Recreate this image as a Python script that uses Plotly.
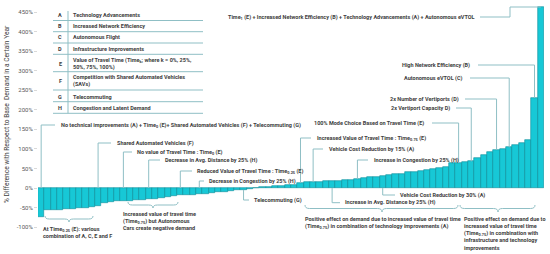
import plotly.graph_objects as go

# ---------------- data ----------------
values = [-75, -57, -56, -55, -54, -53, -52, -50, -48, -45,
          -37, -35, -34, -33, -32, -31, -30, -29, -27, -25,
          -22, -20, -19, -18, -17, -16, -14, -12, -11, -9,
          -8, -6, -5, -3, -1, 2, 3, 4, 6, 8,
          9, 14, 15, 15, 16, 17, 18, 19, 20, 21,
          23, 25, 27, 29, 31, 33, 35, 37, 40, 42,
          44, 46, 48, 51, 54, 64, 64, 66, 68, 76,
          84, 92, 98, 101, 104, 110, 115, 124, 231, 462]
bar_index = list(range(len(values)))
tick_values = [-100, -50, 0, 50, 100, 150, 200, 250, 300, 350, 400, 450]
tick_labels = [f"{v}%" for v in tick_values]

legend_letters = ["A", "B", "C", "D", "E", "F", "G", "H"]
legend_texts = [
    "Technology Advancements",
    "Increased Network Efficiency",
    "Autonomous Flight",
    "Infrastructure Improvements",
    "Value of Travel Time (Time<sub>k</sub>; where k = 0%, 25%,<br>50%, 75%, 100%)",
    "Competition with Shared Automated Vehicles<br>(SAVs)",
    "Telecommuting",
    "Congestion and Latent Demand",
]
y_title = "% Difference with Respect to Base  Demand in a Certain Year"

# ---------------- layout constants ----------------
W, H = 550, 254
ML, MR, MT, MB = 38, 6, 3, 19
Y_MIN, Y_MAX = -120, 473
N = len(values)
BW = (W - ML - MR) / N
PPU = (H - MT - MB) / (Y_MAX - Y_MIN)


def dx(px):
    return (px - ML) / BW - 0.5


def dy(py):
    return Y_MAX - (py - MT) / PPU


TXT = "#404040"
LINE = "#8fbfc5"
FONT = "Roboto"
FS = 5.5

fig = go.Figure()
fig.add_trace(go.Bar(
    x=bar_index, y=values,
    marker=dict(color="#17c8d6", line=dict(color="#0a8c98", width=0.6)),
    hoverinfo="skip",
))

annotations = []
shapes = []


def label(text, px, py, anchor="left", size=FS):
    annotations.append(dict(
        x=dx(px), y=dy(py), xref="x", yref="y", text=text, showarrow=False,
        xanchor=anchor, yanchor="middle", align="left",
        font=dict(family=FONT, size=size, color=TXT, weight="bold"),
    ))


def path(pts):
    d = "M " + " L ".join(f"{x},{y}" for x, y in pts)
    shapes.append(dict(type="path", path=d, xref="x", yref="y",
                       line=dict(color=LINE, width=1), layer="above"))


# --- labels above the zero line (vertical from bar, then right) ---
left_up = [
    ("No technical improvements (A) + Time<sub>0</sub> (E)+ Shared Automated Vehicles (F) + Telecommuting (G)", 0, 59, 125, 55),
    ("Shared Automated Vehicles (F)", 9, 115, 143, 111),
    ("No value of Travel Time : Time<sub>0</sub> (E)", 13, 135, 152, 132),
    ("Decrease in Avg. Distance by 25% (H)", 17, 163, 160, 160),
    ("Reduced Value of Travel Time : Time<sub>0.25</sub> (E)", 22, 195, 171, 192),
    ("Decrease in Congestion by 25% (H)", 25, 207, 181, 204),
    ("Increased Value of Travel Time : Time<sub>0.75</sub> (E)", 41, 315, 138, 311),
    ("Vehicle Cost Reduction by 15% (A)", 43, 327, 149, 323),
    ("Increase in Congestion by 25% (H)", 50, 372, 160, 368),
]
for text, b, tx, ty, hx in left_up:
    label(text, tx, ty)
    path([(b, max(values[b], 0)), (b, dy(ty)), (dx(hx), dy(ty))])

# --- labels below the zero line ---
below = [
    ("Telecommuting (G)", 32, 252, 200, 249),
    ("Increase in Avg. Distance by 25% (H)", 46, 343, 202.7, 340),
    ("Vehicle Cost Reduction by 30% (A)", 54, 398, 195, 395),
]
for text, b, tx, ty, hx in below:
    label(text, tx, ty)
    path([(b, min(values[b], 0)), (b, dy(ty)), (dx(hx), dy(ty))])

# --- labels on the right, line goes right then down to bar ---
right = [
    ("High Network Efficiency (B)", 78, 472, 65, 478),
    ("Autonomous eVTOL (C)", 74, 464, 78, 470),
    ("2x Number of Vertiports (D)", 72, 461, 99, 465),
    ("2x Vertiport Capacity D)", 68, 452, 108, 456),
    ("100% Mode Choice Based on Travel Time (E)", 66, 426, 123, 432),
]
for text, b, tx, ty, hx in right:
    label(text, tx, ty, anchor="right")
    path([(dx(hx), dy(ty)), (b, dy(ty)), (b, values[b])])

# top label to the tallest bar
label("Time<sub>1</sub> (E) + Increased Network Efficiency (B) + Technology Advancements (A) + Autonomous eVTOL",
      477, 17, anchor="right")
path([(dx(480), dy(17)), (dx(510), dy(17)), (dx(510), dy(7)), (N - 1, dy(7))])

# --- curly braces under groups ---


def brace(px1, px2, pxm, pytop, pytip):
    x1, x2, xm = dx(px1), dx(px2), dx(pxm)
    yt, yp = dy(pytop), dy(pytip)
    ym = (yt + yp) / 2
    d = 0.7
    p = (f"M {x1},{yt} Q {x1},{ym} {x1 + d},{ym} L {xm - d},{ym} "
         f"Q {xm},{ym} {xm},{yp} Q {xm},{ym} {xm + d},{ym} "
         f"L {x2 - d},{ym} Q {x2},{ym} {x2},{yt}")
    shapes.append(dict(type="path", path=p, xref="x", yref="y",
                       line=dict(color=LINE, width=1), layer="above"))


brace(45, 93, 69, 216, 222)
brace(128, 178, 153, 202, 208)
brace(305, 458, 382, 205, 212)
brace(460, 535, 498, 205, 212)

label("At Time<sub>0.25</sub> (E): various<br>combination of A, C, E and F", 41, 232)
label("Increased value of travel time<br>(Time<sub>0.75</sub>) but Autonomous<br>Cars create negative demand", 121, 220.5)
label("Positive effect on demand due to increased value of travel time<br>(Time<sub>0.75</sub>) in combination of technology improvements (A)", 303, 223)
label("Positive effect on demand due to<br>increased value of travel time<br>(Time<sub>0.75</sub>) in combination with<br>infrastructure and technology<br>improvements", 462, 233.5)

# --- legend table ---
row_y = [15, 26, 37.3, 48.7, 63.8, 80.8, 96.7, 107.7]
sep_y = [20.5, 31.7, 43, 54.3, 71.7, 90, 101.7, 113.3]
for letter, text, ry in zip(legend_letters, legend_texts, row_y):
    label(letter, 60, ry, anchor="center")
    label(text, 71, ry)
for sy in sep_y:
    path([(dx(53), dy(sy)), (dx(203), dy(sy))])
path([(dx(68), dy(11)), (dx(68), dy(113.3))])

# y-axis title
annotations.append(dict(
    x=(7 - ML) / (W - ML - MR), y=1 - (114 - MT) / (H - MT - MB),
    xref="paper", yref="paper", text=y_title, showarrow=False, textangle=-90,
    xanchor="center", yanchor="middle",
    font=dict(family=FONT, size=6.6, color="#404040"),
))

fig.update_layout(
    width=W, height=H,
    margin=dict(l=ML, r=MR, t=MT, b=MB, pad=0),
    paper_bgcolor="white", plot_bgcolor="white",
    bargap=0, showlegend=False,
    xaxis=dict(range=[-0.5, N - 0.5], visible=False),
    yaxis=dict(range=[Y_MIN, Y_MAX], tickvals=tick_values, ticktext=tick_labels,
               showgrid=False, zeroline=False, showline=False,
               ticks="outside", ticklen=3, tickcolor="#d9d9d9",
               tickfont=dict(family=FONT, size=6, color="#595959")),
    annotations=annotations, shapes=shapes,
)

fig.write_html("out.html", config={"displayModeBar": False},
               post_script="document.body.style.margin='0';document.body.style.overflow='hidden';")
